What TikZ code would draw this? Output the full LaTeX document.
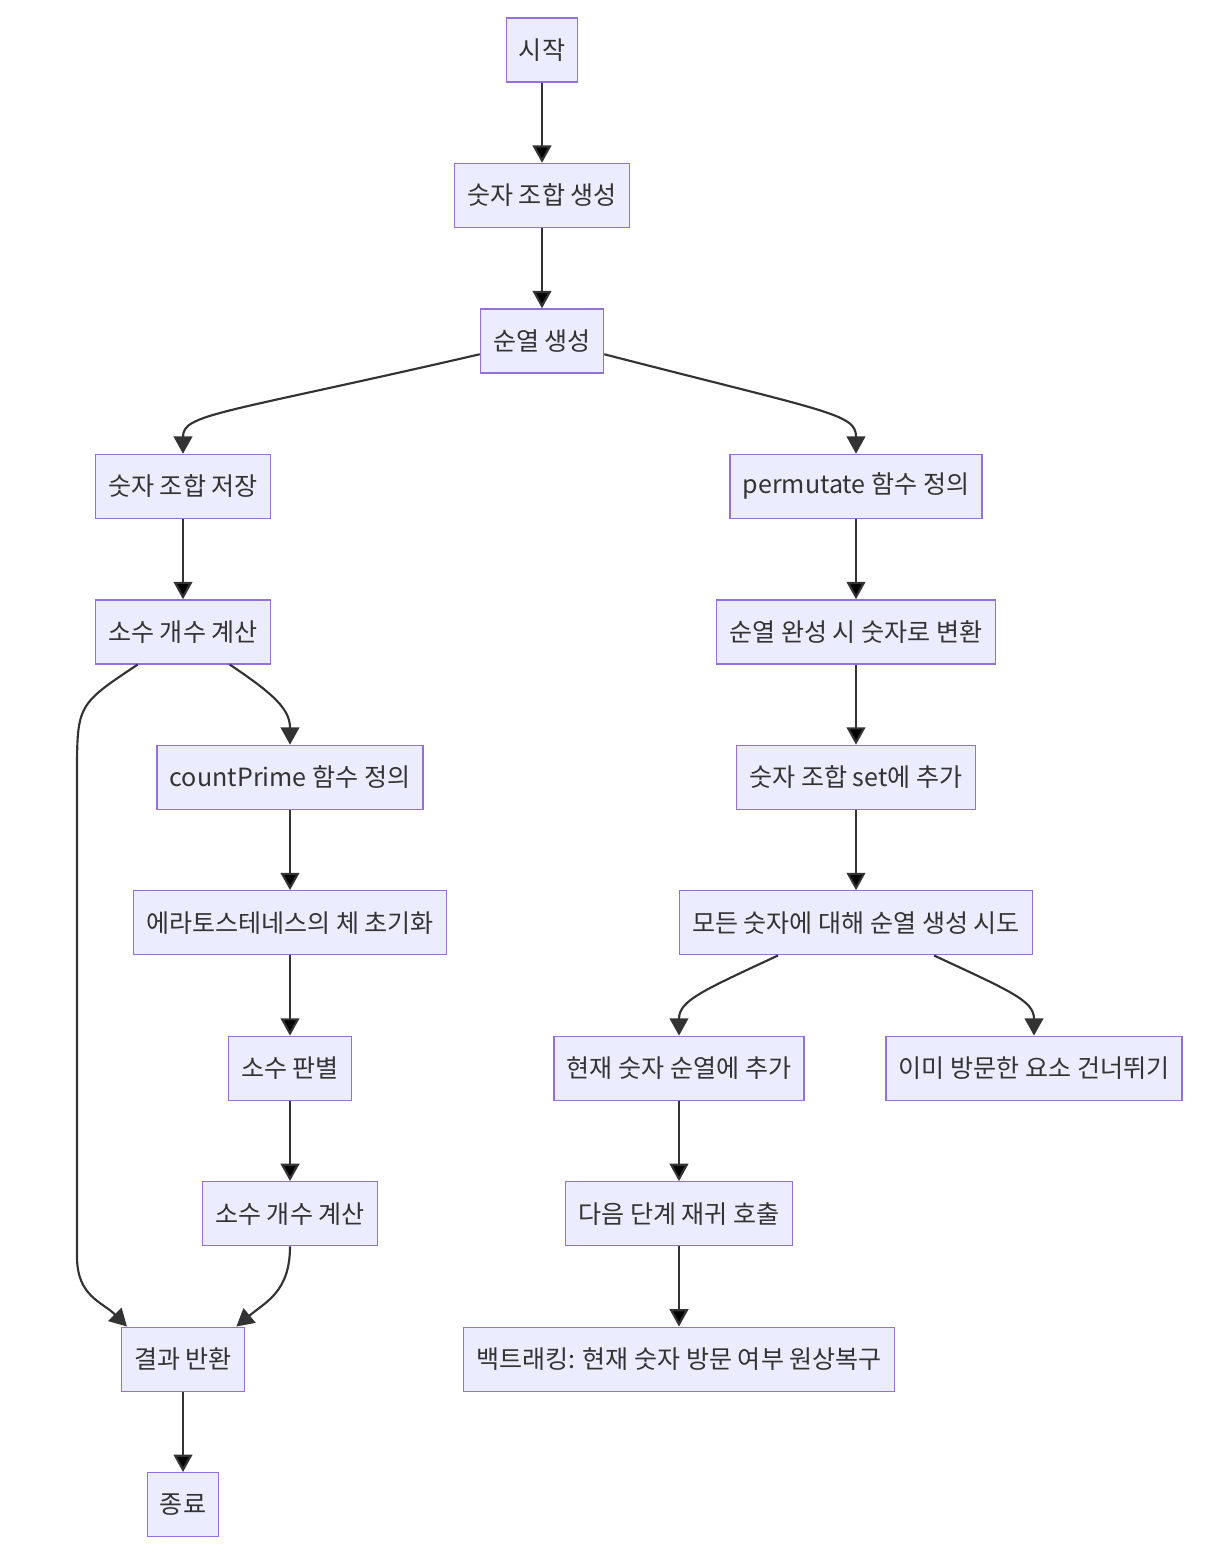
\documentclass[tikz,border=0pt]{standalone}
\usepackage{fontspec}
\setmainfont{Noto Sans CJK KR}
\usetikzlibrary{positioning,arrows.meta,calc}
\definecolor{boxfill}{HTML}{ECECFF}
\definecolor{boxline}{HTML}{9370DB}
\definecolor{edgeline}{HTML}{333333}

\begin{document}
\begin{tikzpicture}[->,>={Triangle[length=13pt,width=14pt]},x=0.75pt,y=-0.75pt,node distance=109.1pt,
    flow node/.style={rectangle,draw=boxline,fill=boxfill,line width=1pt,minimum height=48pt,inner xsep=9.5pt,text=edgeline,font=\fontsize{18.8}{21}\selectfont},
    flow edge/.style={draw=edgeline,line width=1.6pt}]

        \useasboundingbox (0,0) rectangle (1220,1560);

        \node[flow node] (start) at (542,50) {시작};
        \node[flow node] (gen) [below of=start] {숫자 조합 생성};
        \node[flow node] (perm) [below of=gen] {순열 생성};

        \node[flow node] (store) [below of=perm, xshift=-269.25pt] {숫자 조합 저장};
        \node[flow node] (count) [below of=store] {소수 개수 계산};
        \node[flow node] (countfn) [below of=count, xshift=80.25pt] {countPrime 함수 정의};
        \node[flow node] (sieve) [below of=countfn] {에라토스테네스의 체 초기화};
        \node[flow node] (check) [below of=sieve] {소수 판별};
        \node[flow node] (tally) [below of=check] {소수 개수 계산};
        \node[flow node] (result) [below of=tally, xshift=-80.25pt] {결과 반환};
        \node[flow node] (stop) [below of=result] {종료};

        \node[flow node] (permfn) [below of=perm, xshift=235.5pt] {permutate 함수 정의};
        \node[flow node] (tonum) [below of=permfn] {순열 완성 시 숫자로 변환};
        \node[flow node] (addset) [below of=tonum] {숫자 조합 set에 추가};
        \node[flow node] (tryall) [below of=addset] {모든 숫자에 대해 순열 생성 시도};
        \node[flow node] (push) [below of=tryall, xshift=-132.75pt] {현재 숫자 순열에 추가};
        \node[flow node] (skip) [below of=tryall, xshift=133.5pt] {이미 방문한 요소 건너뛰기};
        \node[flow node] (recur) [below of=push] {다음 단계 재귀 호출};
        \node[flow node] (undo) [below of=recur] {백트래킹: 현재 숫자 방문 여부 원상복구};

        \path[flow edge]
        (start) edge (gen)
        (gen) edge (perm)
        (store) edge (count)
        (countfn) edge (sieve)
        (sieve) edge (check)
        (check) edge (tally)
        (result) edge (stop)
        (permfn) edge (tonum)
        (tonum) edge (addset)
        (addset) edge (tryall)
        (push) edge (recur)
        (recur) edge (undo)
        ;

        % branches out of perm
        \draw[flow edge] ([yshift=-10pt]perm.west) .. controls +(-260,60) and +(0,-40) .. (store.north);
        \draw[flow edge] ([yshift=-10pt]perm.east) .. controls +(225,58) and +(0,-40) .. (permfn.north);

        % count splits, both ends reach result
        \draw[flow edge] ([xshift=35pt]count.south) .. controls +(45,30) and +(0,-35) .. (countfn.north);
        \draw[flow edge] ([xshift=-34pt]count.south) .. controls +(-60,40) and +(0,-70) .. ($(count.south)+(-106,110)$)
            -- ($(result.north)+(-106,-70)$) .. controls +(0,40) and +(-25,-25) .. ([xshift=-42pt]result.north);
        \draw[flow edge] (tally.south) .. controls +(0,45) and +(30,-25) .. ([xshift=40pt]result.north);

        % tryall splits
        \draw[flow edge] ([xshift=-58.5pt]tryall.south) .. controls +(-75,35) and +(0,-35) .. (push.north);
        \draw[flow edge] ([xshift=58.5pt]tryall.south) .. controls +(75,35) and +(0,-35) .. (skip.north);
    \end{tikzpicture}
\end{document}
